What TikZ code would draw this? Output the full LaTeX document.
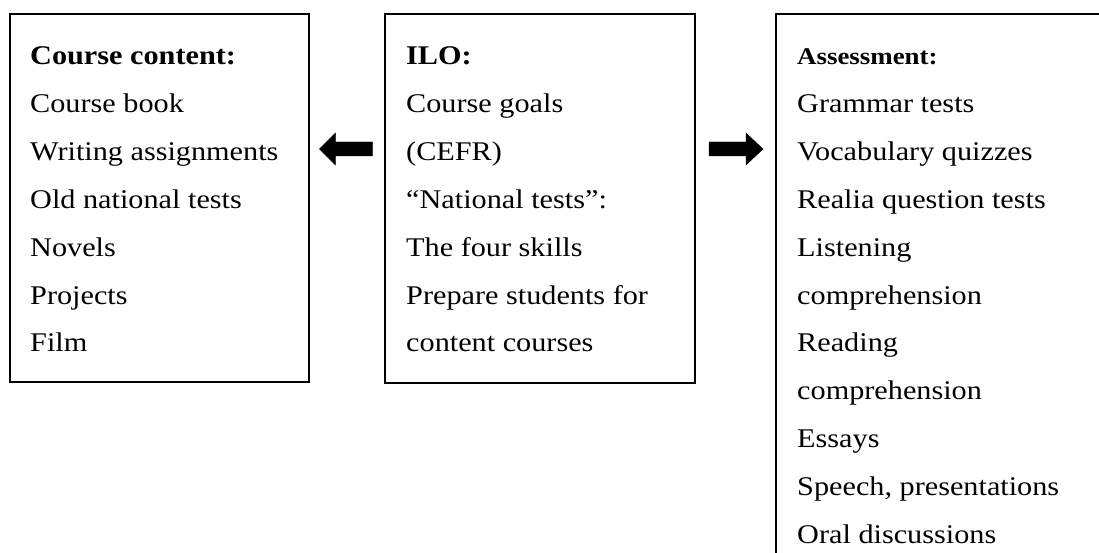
\documentclass[tikz,border=0pt]{standalone}
\usepackage{fontspec}
\setmainfont[FakeStretch=1.12]{Liberation Serif}
\begin{document}
\begin{tikzpicture}[x=1pt,y=-1pt,
  box/.style={draw=black,line width=1.9pt,rectangle,inner sep=0pt,anchor=north west},
  txt/.style={anchor=base west,inner sep=0pt,font=\fontsize{27}{30}\selectfont},
  hdr/.style={txt,font=\fontsize{27}{30}\selectfont\bfseries},
  blockarrow/.style={fill=black,draw=black,line width=0.4pt,line join=miter}]
\useasboundingbox (0,0) rectangle (1099,553);
\clip (0,0) rectangle (1099,553);
\fill[white] (0,0) rectangle (1099,553);
% boxes
\node[box,minimum width=299pt,minimum height=368pt] (content) at (9,13) {};
\node[box,minimum width=310pt,minimum height=369pt] (ilo) at (384,13) {};
\node[box,minimum width=340pt,minimum height=580pt] (assess) at (775,13) {};
% left texts
\node[hdr] (c0) at (30,65.0) {Course content:};
\node[txt] (c1) at (30,112.8) {Course book};
\node[txt] (c2) at (30,160.6) {Writing assignments};
\node[txt] (c3) at (30,208.4) {Old national tests};
\node[txt] (c4) at (30,256.2) {Novels};
\node[txt] (c5) at (30,304.0) {Projects};
\node[txt] (c6) at (30,351.8) {Film};
% middle texts
\node[hdr] (i0) at (406,65.0) {ILO:};
\node[txt] (i1) at (406,112.8) {Course goals};
\node[txt] (i2) at (406,160.6) {(CEFR)};
\node[txt] (i3) at (406,208.4) {“National tests”:};
\node[txt] (i4) at (406,256.2) {The four skills};
\node[txt] (i5) at (406,304.0) {Prepare students for};
\node[txt] (i6) at (406,351.8) {content courses};
% right texts
\node[hdr,font=\fontsize{24}{28}\selectfont\bfseries] (a0) at (797,65.0) {Assessment:};
\node[txt] (a1) at (797,112.8) {Grammar tests};
\node[txt] (a2) at (797,160.6) {Vocabulary quizzes};
\node[txt] (a3) at (797,208.4) {Realia question tests};
\node[txt] (a4) at (797,256.2) {Listening};
\node[txt] (a5) at (797,304.0) {comprehension};
\node[txt] (a6) at (797,351.8) {Reading};
\node[txt] (a7) at (797,399.6) {comprehension};
\node[txt] (a8) at (797,447.4) {Essays};
\node[txt] (a9) at (797,495.2) {Speech, presentations};
\node[txt] (a10) at (797,543.0) {Oral discussions};
% block arrows
\coordinate (la) at (346,149);
\coordinate (ra) at (736,149);
\fill[blockarrow] ([xshift=-26.5pt]la) -- ++(16,-16) -- ++(0,9) -- ++(37,0) -- ++(0,14) -- ++(-37,0) -- ++(0,9) -- cycle;
\fill[blockarrow] ([xshift=27pt]ra) -- ++(-17,-16) -- ++(0,9) -- ++(-37,0) -- ++(0,14) -- ++(37,0) -- ++(0,9) -- cycle;
\end{tikzpicture}
\end{document}
